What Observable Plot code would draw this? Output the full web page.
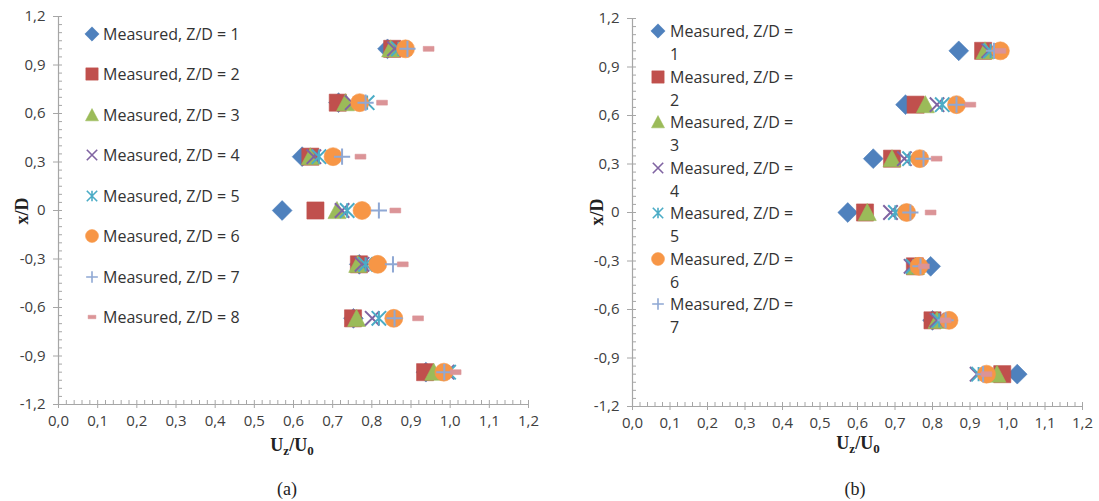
<!DOCTYPE html>
<html><head><meta charset="utf-8">
<script src="https://cdn.jsdelivr.net/npm/d3@7"></script>
<script src="https://cdn.jsdelivr.net/npm/@observablehq/plot@0.6"></script>
<style>
body{margin:0;background:#fff;}
#root{position:relative;width:1099px;height:501px;overflow:hidden;background:#fff;font-family:"Open Sans",sans-serif;}
.panel{position:absolute;top:0;}
.ent{position:absolute;white-space:nowrap;line-height:1;font-size:16px;color:#333;transform:translateY(-50%);}
.mk{position:absolute;transform:translate(-50%,-50%);}
.ylab{position:absolute;font-family:"Liberation Serif",serif;font-weight:bold;font-size:18px;color:#222;transform:translate(-50%,-50%) rotate(-90deg);white-space:nowrap;}
.xlab{position:absolute;font-family:"Liberation Serif",serif;font-weight:bold;font-size:18px;color:#222;transform:translate(-50%,-50%);white-space:nowrap;}
.xlab sub{font-size:13px;vertical-align:-4px;}
.cap{position:absolute;font-family:"Liberation Serif",serif;font-size:18px;color:#222;transform:translate(-50%,-50%);}
</style></head>
<body><div id="root"></div>
<script>
// ---------- data ----------
const rowsXD = [1.0, 0.667, 0.333, 0, -0.333, -0.667, -1.0];
const seriesNames = ["Measured, Z/D = 1","Measured, Z/D = 2","Measured, Z/D = 3","Measured, Z/D = 4",
  "Measured, Z/D = 5","Measured, Z/D = 6","Measured, Z/D = 7","Measured, Z/D = 8"];
const seriesColors = ["#4F81BD","#C0504D","#9BBB59","#8064A2","#4BACC6","#F79646","#8FA8D4","#DB9497"];

// panel (a): Uz/U0 per row of x/D
const a1 = [0.840, 0.715, 0.622, 0.571, 0.768, 0.753, 0.938];
const a2 = [0.852, 0.713, 0.643, 0.656, 0.767, 0.752, 0.936];
const a3 = [0.848, 0.733, 0.643, 0.711, 0.764, 0.761, 0.958];
const a4 = [0.858, 0.750, 0.652, 0.724, 0.775, 0.801, 0.992];
const a5 = [0.868, 0.788, 0.665, 0.737, 0.784, 0.818, 0.996];
const a6 = [0.886, 0.769, 0.701, 0.775, 0.815, 0.856, 0.984];
const a7 = [0.891, 0.784, 0.724, 0.818, 0.854, 0.858, 0.985];
const a8 = [0.945, 0.826, 0.771, 0.860, 0.879, 0.918, 1.014];

// panel (b)
const b1 = [0.870, 0.728, 0.642, 0.574, 0.795, 0.800, 1.026];
const b2 = [0.935, 0.755, 0.692, 0.620, 0.753, 0.800, 0.986];
const b3 = [0.940, 0.781, 0.692, 0.626, 0.755, 0.812, 0.972];
const b4 = [0.950, 0.812, 0.725, 0.688, 0.743, 0.812, 0.919];
const b5 = [0.955, 0.826, 0.739, 0.701, 0.748, 0.818, 0.923];
const b6 = [0.981, 0.864, 0.766, 0.731, 0.764, 0.844, 0.944];
const b7 = [0.964, 0.864, 0.776, 0.741, 0.768, 0.835, 0.935];
const b8 = [0.981, 0.901, 0.811, 0.795, 0.777, 0.835, 0.944];

const xTicks = [0,0.1,0.2,0.3,0.4,0.5,0.6,0.7,0.8,0.9,1.0,1.1,1.2];
const xTickLabels = ["0,0","0,1","0,2","0,3","0,4","0,5","0,6","0,7","0,8","0,9","1,0","1,1","1,2"];
const yTicks = [1.2,0.9,0.6,0.3,0,-0.3,-0.6,-0.9,-1.2];
const yTickLabels = ["1,2","0,9","0,6","0,3","0","-0,3","-0,6","-0,9","-1,2"];

// ---------- symbols ----------
const rr = s => Math.sqrt(s / Math.PI);
const symDiamond = {draw(c,s){const r=rr(s)*1.1;c.moveTo(0,-r);c.lineTo(r,0);c.lineTo(0,r);c.lineTo(-r,0);c.closePath();}};
const symSquare = {draw(c,s){const r=rr(s)*0.95;c.moveTo(-r,-r);c.lineTo(r,-r);c.lineTo(r,r);c.lineTo(-r,r);c.closePath();}};
const symTriangle = {draw(c,s){const r=rr(s);c.moveTo(0,-r);c.lineTo(r,r*0.9);c.lineTo(-r,r*0.9);c.closePath();}};
const symX = {draw(c,s){const r=rr(s)*0.8;c.moveTo(-r,-r);c.lineTo(r,r);c.moveTo(-r,r);c.lineTo(r,-r);}};
const symStar = {draw(c,s){const r=rr(s)*0.8;c.moveTo(-r,-r);c.lineTo(r,r);c.moveTo(-r,r);c.lineTo(r,-r);c.moveTo(0,-r);c.lineTo(0,r);}};
const symCircle = {draw(c,s){const r=rr(s);c.moveTo(r,0);c.arc(0,0,r,0,2*Math.PI);c.closePath();}};
const symPlus = {draw(c,s){const r=rr(s)*0.9;c.moveTo(-r,0);c.lineTo(r,0);c.moveTo(0,-r);c.lineTo(0,r);}};
const symDash = {draw(c,s){const r=rr(s);const w=r*0.6,h=r*0.27;c.moveTo(-w,-h);c.lineTo(w,-h);c.lineTo(w,h);c.lineTo(-w,h);c.closePath();}};
const symbols = [symDiamond,symSquare,symTriangle,symX,symStar,symCircle,symPlus,symDash];
const strokeOnly = [false,false,false,true,true,false,true,false];

const axisGray = "#a6a6a6";
const xLabelMap = new Map(xTicks.map((t,i)=>[t.toFixed(2), xTickLabels[i]]));
const yLabelMap = new Map(yTicks.map((t,i)=>[t.toFixed(2), yTickLabels[i]]));
const xMinor = d3.range(0, 1.2001, 0.02).filter(v => Math.abs(v*10 - Math.round(v*10)) > 1e-6);
const yMinor = d3.range(-1.2, 1.2001, 0.05).filter(v => Math.abs(v/0.3 - Math.round(v/0.3)) > 1e-6);

function dotStyle(i){
  return strokeOnly[i]
    ? {fill: "none", stroke: seriesColors[i], strokeWidth: 2}
    : {fill: seriesColors[i], stroke: seriesColors[i], strokeWidth: 0.6};
}

function makePanel(series, m){
  const marks = [
    Plot.ruleY([-1.2], {stroke: axisGray, strokeWidth: 1.2}),
    Plot.ruleX([0], {stroke: axisGray, strokeWidth: 1.2}),
    Plot.axisX({ticks: xMinor, tickSize: 4, dy: -4, text: null, stroke: axisGray, label: null}),
    Plot.axisX({ticks: xTicks, tickSize: 8, dy: -4, text: null, stroke: axisGray, label: null}),
    Plot.axisX({ticks: xTicks, tickSize: 0, tickPadding: 11, label: null, fontSize: 15, fill: "#404040",
      tickFormat: d => xLabelMap.get((+d).toFixed(2))}),
    Plot.axisY({ticks: yMinor, tickSize: 4, dx: 4, text: null, stroke: axisGray, label: null}),
    Plot.axisY({ticks: yTicks, tickSize: 9, dx: 4, text: null, stroke: axisGray, label: null}),
    Plot.axisY({ticks: yTicks, tickSize: 0, tickPadding: 13, label: null, fontSize: 15, fill: "#404040",
      tickFormat: d => yLabelMap.get((+d).toFixed(2))})
  ];
  series.forEach((vals, i) => {
    marks.push(Plot.dot(vals.map((v, j) => ({u: v, xd: rowsXD[j]})),
      {x: "u", y: "xd", symbol: symbols[i], r: 9, ...dotStyle(i)}));
  });
  return Plot.plot({
    width: m.width, height: 501,
    marginLeft: m.left, marginRight: m.right, marginTop: m.top, marginBottom: 501 - m.bottom,
    x: {domain: [0, 1.2], axis: null},
    y: {domain: [-1.2, 1.2], axis: null},
    style: {fontFamily: "'Open Sans', sans-serif", fontSize: "15px", color: "#404040", background: "transparent", overflow: "visible"},
    marks
  });
}

const root = document.getElementById("root");
function place(el, left){ el.classList.add("panel"); el.style.left = left + "px"; root.appendChild(el); }

place(makePanel([a1,a2,a3,a4,a5,a6,a7,a8], {width: 550, left: 58, right: 550-528, top: 16, bottom: 404}), 0);
place(makePanel([b1,b2,b3,b4,b5,b6,b7,b8], {width: 550, left: 632-549, right: 549+550-1082, top: 18, bottom: 406}), 549);

// ---------- legends ----------
function markerSvg(i, r){
  const ns = "http://www.w3.org/2000/svg";
  const svg = document.createElementNS(ns, "svg");
  svg.setAttribute("width", 18); svg.setAttribute("height", 18);
  svg.setAttribute("viewBox", "-9 -9 18 18");
  const p = d3.path(); symbols[i].draw(p, r*r*Math.PI);
  const path = document.createElementNS(ns, "path");
  path.setAttribute("d", p.toString());
  const st = dotStyle(i);
  path.setAttribute("fill", st.fill); path.setAttribute("stroke", st.stroke);
  path.setAttribute("stroke-width", strokeOnly[i] ? 1.6 : 0.5);
  svg.appendChild(path);
  svg.classList.add("mk");
  return svg;
}
function addEntry(i, mx, tx, y, lines, lineGap){
  const mk = markerSvg(i, 6.5);
  mk.style.left = mx + "px"; mk.style.top = y + "px"; root.appendChild(mk);
  lines.forEach((t, k) => {
    const d = document.createElement("div");
    d.className = "ent"; d.textContent = t;
    d.style.left = tx + "px"; d.style.top = (y + k*lineGap) + "px";
    root.appendChild(d);
  });
}
seriesNames.forEach((n, i) => addEntry(i, 92, 103, 33.5 + 40.5*i, [n], 0));
seriesNames.slice(0, 7).forEach((n, i) => {
  const cut = n.lastIndexOf(" ");
  addEntry(i, 658, 670, 31 + 45.5*i, [n.slice(0, cut), n.slice(cut+1)], 23);
});

// ---------- axis titles and captions ----------
function addHTML(cls, html, x, y){
  const d = document.createElement("div"); d.className = cls; d.innerHTML = html;
  d.style.left = x + "px"; d.style.top = y + "px"; root.appendChild(d);
}
addHTML("ylab", "x/D", 22, 211);
addHTML("ylab", "x/D", 597, 212);
addHTML("xlab", "U<sub>z</sub>/U<sub>0</sub>", 292, 447);
addHTML("xlab", "U<sub>z</sub>/U<sub>0</sub>", 858, 445);
addHTML("cap", "(a)", 287, 489);
addHTML("cap", "(b)", 855, 489);
</script>
</body></html>
